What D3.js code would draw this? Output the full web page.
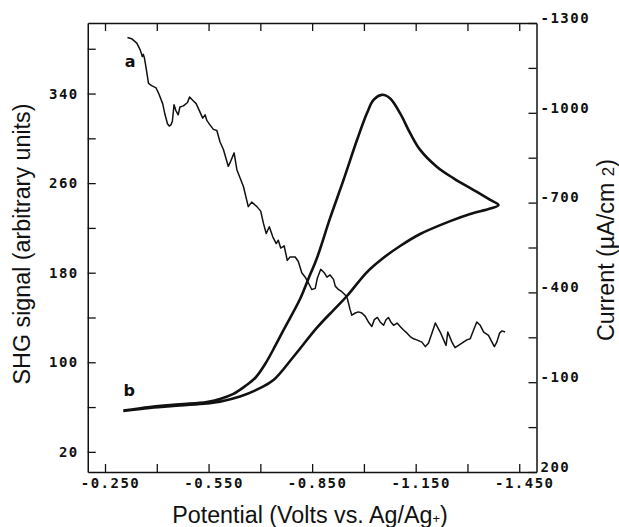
<!DOCTYPE html>
<html>
<head>
<meta charset="utf-8">
<script src="https://cdn.jsdelivr.net/npm/d3@7"></script>
<style>
  body { margin: 0; background: #fff; }
  .tick text { font-family: "DejaVu Sans Mono", monospace; font-weight: bold; font-size: 14px; letter-spacing: 1.5px; fill: #111; }
  .domain { stroke: #111; stroke-width: 1.5; }
  .tick line { stroke: #111; stroke-width: 1.3; }
  .title { font-family: "Liberation Sans", Arial, sans-serif; font-size: 23.3px; fill: #111; }
  .tag { font-family: "DejaVu Sans", sans-serif; font-weight: bold; font-size: 16px; fill: #111; }
</style>
</head>
<body>
<script>
// ticks
var potentialTicks = [-0.25, -0.4, -0.55, -0.7, -0.85, -1.0, -1.15, -1.3, -1.45];
var potentialLabels = [-0.25, -0.55, -0.85, -1.15, -1.45];
var shgTicks = [20, 60, 100, 140, 180, 220, 260, 300, 340, 380];
var shgLabels = [20, 100, 180, 260, 340];
var currentTicks = [-1300, -1150, -1000, -850, -700, -550, -400, -250, -100, 50, 200];
var currentLabels = [-1300, -1000, -700, -400, -100, 200];

// curve a : SHG signal
var shgPotential = [
  -0.315,-0.327,-0.342,-0.352,-0.358,-0.361,-0.364,-0.369,-0.376,-0.385,
  -0.398,-0.407,-0.417,-0.424,-0.431,-0.436,-0.441,-0.445,-0.450,-0.455,
  -0.462,-0.467,-0.477,-0.489,-0.495,-0.504,-0.514,-0.520,-0.533,-0.540,
  -0.545,-0.554,-0.564,-0.574,-0.583,-0.593,-0.607,-0.612,-0.624,-0.632,
  -0.651,-0.665,-0.675,-0.690,-0.701,-0.709,-0.717,-0.726,-0.736,-0.746,
  -0.752,-0.759,-0.769,-0.778,-0.786,-0.801,-0.810,-0.820,-0.830,-0.839,
  -0.849,-0.859,-0.865,-0.875,-0.885,-0.893,-0.902,-0.912,-0.917,-0.926,
  -0.936,-0.946,-0.952,-0.960,-0.965,-0.975,-0.984,-0.994,-1.004,-1.013,
  -1.023,-1.030,-1.039,-1.047,-1.057,-1.064,-1.071,-1.078,-1.086,-1.096,
  -1.105,-1.114,-1.125,-1.134,-1.144,-1.153,-1.168,-1.178,-1.187,-1.197,
  -1.207,-1.221,-1.231,-1.238,-1.243,-1.255,-1.264,-1.274,-1.284,-1.298,
  -1.308,-1.318,-1.327,-1.337,-1.347,-1.361,-1.371,-1.378,-1.385,-1.393,
  -1.400,-1.409];
var shgSignal = [
  390,389,385,379,373,375,372,363,349,347,
  345,339,331,321,313,311,312,315,330,325,
  321,328,329,332,337,334,331,327,318,321,
  316,312,308,307,297,290,275,278,287,272,
  257,239,243,239,235,224,215,221,212,206,
  209,202,204,191,194,194,190,180,176,171,
  165,166,175,183,180,176,178,174,168,165,
  163,160,157,147,142,144,145,144,141,136,
  132,138,140,136,133,138,140,136,133,135,
  132,129,126,123,121,120,118,114,117,126,
  135,127,120,115,127,118,113,115,117,120,
  121,129,136,133,127,124,118,114,118,126,
  128,127];

// curve b : cyclic voltammogram (forward then return)
var cvPotential = [
  -0.303,-0.380,-0.467,-0.545,-0.583,-0.622,-0.656,-0.685,-0.714,-0.743,
  -0.767,-0.815,-0.839,-0.864,-0.902,-0.941,-0.980,-1.009,-1.028,-1.052,
  -1.076,-1.105,-1.134,-1.163,-1.211,-1.260,-1.318,-1.366,-1.390,
  -1.366,-1.308,-1.250,-1.163,-1.105,-1.056,-1.009,-0.951,-0.912,-0.864,
  -0.796,-0.738,-0.699,-0.641,-0.583,-0.545,-0.467,-0.380,-0.303];
var cvCurrent = [
  -5,-17,-26,-34,-44,-61,-87,-114,-161,-221,
  -274,-378,-445,-515,-648,-776,-909,-999,-1043,-1060,
  -1048,-998,-932,-876,-820,-781,-742,-709,-692,
  -680,-662,-638,-595,-555,-515,-468,-388,-341,-282,
  -185,-107,-80,-52,-35,-29,-22,-14,-4];

var svg = d3.select('body').append('svg')
    .attr('width', 619)
    .attr('height', 527);

var plotL = 87.75, plotR = 536.5, plotT = 23, plotB = 472;

var x = d3.scaleLinear().domain([-0.2, -1.5]).range([plotL, plotR]);
var yL = d3.scaleLinear().domain([2, 403]).range([plotB, plotT]);
var yR = d3.scaleLinear().domain([200, -1300]).range([plotB, plotT]);

function only(list, fmt) {
  return function(d) {
    return list.some(function(v) { return Math.abs(v - d) < 1e-9; }) ? fmt(d) : '';
  };
}

// axes, ticks pointing inward
svg.append('g')
    .attr('transform', 'translate(0,' + plotB + ')')
    .call(d3.axisBottom(x).tickValues(potentialTicks).tickSizeInner(-8).tickSizeOuter(0).tickPadding(6.5)
      .tickFormat(only(potentialLabels, function(d) { return d.toFixed(3); })))
    .selectAll('text').attr('dx', 5);

svg.append('g')
    .attr('transform', 'translate(0,' + plotT + ')')
    .call(d3.axisTop(x).tickValues(potentialTicks).tickSizeInner(-8).tickSizeOuter(0).tickFormat(''));

svg.append('g')
    .attr('transform', 'translate(' + plotL + ',0)')
    .call(d3.axisLeft(yL).tickValues(shgTicks).tickSizeInner(-8).tickSizeOuter(0).tickPadding(9)
      .tickFormat(only(shgLabels, function(d) { return String(d); })));

svg.append('g')
    .attr('transform', 'translate(' + plotR + ',0)')
    .call(d3.axisRight(yR).tickValues(currentTicks).tickSizeInner(-8).tickSizeOuter(0).tickPadding(4)
      .tickFormat(only(currentLabels, function(d) { return String(d); })))
    .selectAll('text').attr('dy', '-0.05em');

// curves
var lineA = d3.line()
    .x(function(d, i) { return x(shgPotential[i]); })
    .y(function(d) { return yL(d); });
svg.append('path')
    .datum(shgSignal)
    .attr('d', lineA)
    .attr('fill', 'none')
    .attr('stroke', '#111')
    .attr('stroke-width', 1.5)
    .attr('stroke-linejoin', 'round');

var lineB = d3.line()
    .curve(d3.curveCatmullRom.alpha(0.5))
    .x(function(d, i) { return x(cvPotential[i]); })
    .y(function(d) { return yR(d); });
svg.append('path')
    .datum(cvCurrent)
    .attr('d', lineB)
    .attr('fill', 'none')
    .attr('stroke', '#111')
    .attr('stroke-width', 2.6)
    .attr('stroke-linejoin', 'round');

// curve tags
svg.append('text').attr('class', 'tag')
    .attr('x', x(-0.3225)).attr('y', yL(364))
    .attr('text-anchor', 'middle').text('a');
svg.append('text').attr('class', 'tag')
    .attr('x', x(-0.32)).attr('y', yR(-55))
    .attr('text-anchor', 'middle').text('b');

// titles
var xt = svg.append('text').attr('class', 'title')
    .attr('x', 310).attr('y', 523)
    .attr('text-anchor', 'middle');
xt.append('tspan').text('Potential (Volts vs. Ag/Ag');
xt.append('tspan').attr('font-size', '13px').text('+');
xt.append('tspan').text(')');

svg.append('text').attr('class', 'title')
    .attr('transform', 'translate(30,244) rotate(-90)')
    .attr('text-anchor', 'middle')
    .text('SHG signal (arbitrary units)');

var yt = svg.append('text').attr('class', 'title')
    .attr('transform', 'translate(614,250) rotate(-90)')
    .attr('text-anchor', 'middle');
yt.append('tspan').text('Current (\u00b5A/cm ');
yt.append('tspan').attr('font-size', '17px').text('2');
yt.append('tspan').text(')');
</script>
</body>
</html>
